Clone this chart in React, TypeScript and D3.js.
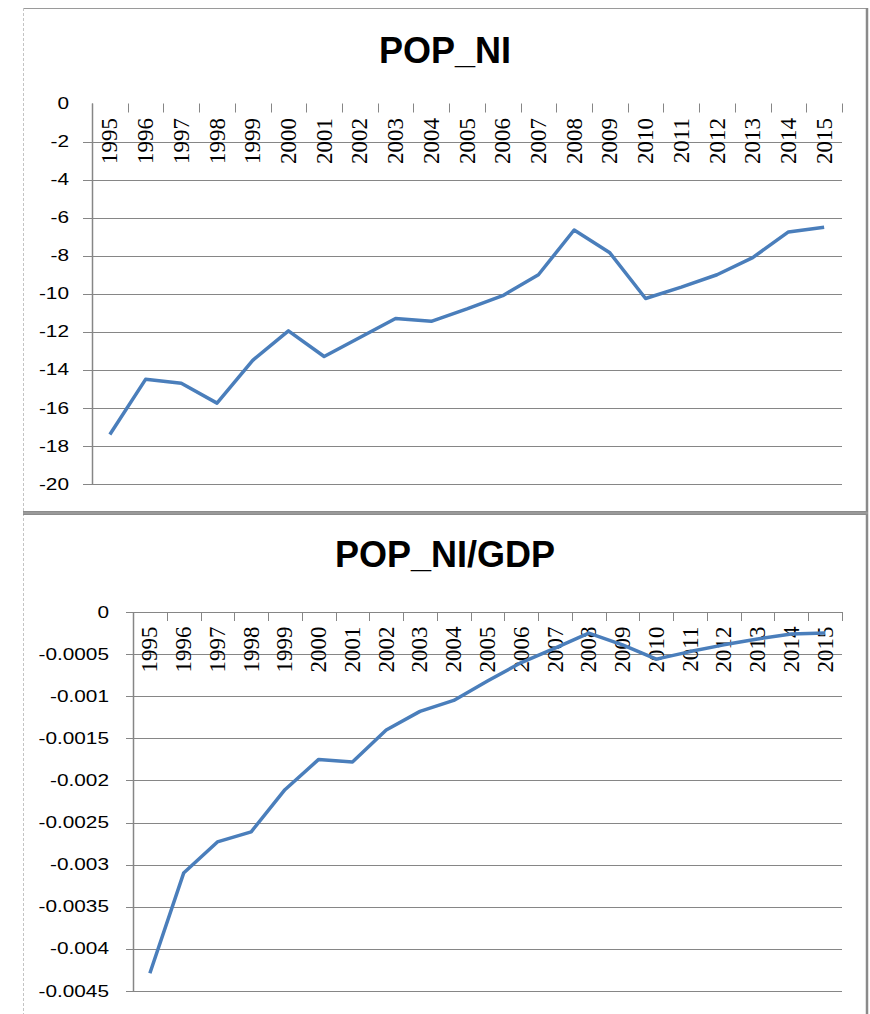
import React from "react";
import * as d3 from "d3";

// categories shared by both panels
const years = [
  "1995", "1996", "1997", "1998", "1999", "2000", "2001", "2002", "2003", "2004", "2005",
  "2006", "2007", "2008", "2009", "2010", "2011", "2012", "2013", "2014", "2015",
];

// series values
const popNi = [
  -17.4, -14.5, -14.7, -15.75, -13.5, -11.95, -13.3, -12.3, -11.3, -11.45, -10.8,
  -10.1, -9.0, -6.65, -7.85, -10.25, -9.65, -9.0, -8.1, -6.75, -6.5,
];
const popNiGdp = [
  -0.00429, -0.0031, -0.00273, -0.00261, -0.00211, -0.00175, -0.00178, -0.0014, -0.00118, -0.00105, -0.00082,
  -0.0006, -0.00043, -0.00025, -0.00039, -0.00056, -0.00047, -0.00039, -0.00032, -0.00026, -0.00025,
];

// y tick values
const popNiTicks = [0, -2, -4, -6, -8, -10, -12, -14, -16, -18, -20];
const popNiGdpTicks = [0, -0.0005, -0.001, -0.0015, -0.002, -0.0025, -0.003, -0.0035, -0.004, -0.0045];

const LINE = "#4a7ebb";
const GRID = "#868686";

type PanelProps = {
  title: string;
  titleY: number;
  values: number[];
  ticks: number[];
  domain: [number, number];
  left: number;
  right: number;
  top: number;
  bottom: number;
  labelX: number;
  tickLen: number;
  showTopLine: boolean;
};

function Panel(p: PanelProps) {
  const x = d3.scaleBand<string>().domain(years).range([p.left, p.right]).padding(0);
  const y = d3.scaleLinear().domain(p.domain).range([p.bottom, p.top]);
  const bw = x.bandwidth();
  const line = d3
    .line<number>()
    .x((_, i) => (x(years[i]) as number) + bw / 2)
    .y((v) => y(v));
  const bounds = years.map((yr) => x(yr) as number).concat([p.right]);

  return (
    <g>
      <text
        x={(23 + 867) / 2}
        y={p.titleY}
        textAnchor="middle"
        fontFamily="'Liberation Sans', Arial, sans-serif"
        fontWeight="bold"
        fontSize={36}
        fill="#000"
      >
        {p.title}
      </text>
      {/* gridlines + y ticks */}
      {p.ticks.map((t) =>
        t === 0 && !p.showTopLine ? null : (
          <line
            key={"g" + t}
            x1={p.left - p.tickLen}
            x2={p.right}
            y1={Math.round(y(t)) + 0.5}
            y2={Math.round(y(t)) + 0.5}
            stroke={GRID}
            strokeWidth={1}
          />
        )
      )}
      {p.ticks.map((t) => (
        <text
          key={"l" + t}
          transform={`translate(${p.labelX},${y(t)}) scale(1.3,1)`}
          textAnchor="end"
          dominantBaseline="central"
          fontFamily="'Liberation Sans', Arial, sans-serif"
          fontSize={16}
          fill="#000"
        >
          {t.toString()}
        </text>
      ))}
      {/* y axis line */}
      <line x1={p.left + 0.5} x2={p.left + 0.5} y1={y(p.domain[1])} y2={y(p.domain[0])} stroke={GRID} strokeWidth={1.5} />
      {/* x ticks along the zero line */}
      {bounds.map((bx, i) => (
        <line
          key={"t" + i}
          x1={Math.round(bx) + 0.5}
          x2={Math.round(bx) + 0.5}
          y1={y(0)}
          y2={y(0) + 9}
          stroke={GRID}
          strokeWidth={1}
        />
      ))}
      {/* category labels, rotated */}
      {years.map((yr) => (
        <text
          key={"c" + yr}
          transform={`translate(${(x(yr) as number) + bw / 2},${y(0) + 14.5}) rotate(-90)`}
          textAnchor="end"
          dominantBaseline="central"
          fontFamily="'Liberation Serif', 'Times New Roman', serif"
          fontSize={23}
          fill="#000"
        >
          {yr}
        </text>
      ))}
      <path d={line(p.values) || ""} fill="none" stroke={LINE} strokeWidth={3.5} strokeLinejoin="round" />
    </g>
  );
}

export default function App() {
  return (
    <svg
      width={870}
      height={1014}
      style={{ position: "absolute", left: 0, top: 0, background: "#fff" }}
    >
      <rect x={0} y={0} width={870} height={1014} fill="#fff" />
      {/* frames */}
      <line x1={23} x2={867} y1={8.5} y2={8.5} stroke="#9a9a9a" strokeWidth={1} />
      <line x1={23.5} x2={23.5} y1={8} y2={1014} stroke="#c4c4c4" strokeWidth={1} strokeDasharray="3,2" />
      <line x1={867} x2={867} y1={8} y2={1014} stroke="#8a8a8a" strokeWidth={2.5} />
      <rect x={23} y={511} width={845} height={4} fill="#8c8c8c" />
      <rect x={23} y={512.5} width={845} height={1} fill="#a8a8a8" />

      <Panel
        title="POP_NI"
        titleY={63}
        values={popNi}
        ticks={popNiTicks}
        domain={[-20, 0]}
        left={92}
        right={842}
        top={103.5}
        bottom={484}
        labelX={69}
        tickLen={9}
        showTopLine={false}
      />
      <Panel
        title="POP_NI/GDP"
        titleY={567}
        values={popNiGdp}
        ticks={popNiGdpTicks}
        domain={[-0.0045, 0]}
        left={133}
        right={842}
        top={612}
        bottom={991}
        labelX={109}
        tickLen={7}
        showTopLine={true}
      />
    </svg>
  );
}
